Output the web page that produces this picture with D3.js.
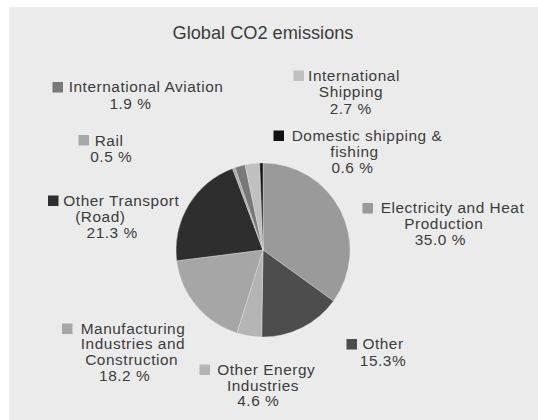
<!DOCTYPE html>
<html>
<head>
<meta charset="utf-8">
<script src="https://cdn.jsdelivr.net/npm/d3@7"></script>
<style>
  html, body { margin: 0; padding: 0; background: #ffffff; }
  svg { display: block; }
  text { font-family: "Liberation Sans", Arial, sans-serif; fill: #3c3c3c; }
</style>
</head>
<body>
<svg id="chart" width="538" height="420"></svg>
<script>
// Sector shares of global CO2 emissions, in pie order (clockwise from 12 o'clock)
const categories = [
  "Electricity and Heat Production",
  "Other",
  "Other Energy Industries",
  "Manufacturing Industries and Construction",
  "Other Transport (Road)",
  "Rail",
  "International Aviation",
  "International Shipping",
  "Domestic shipping & fishing"
];
const shares = [35.0, 15.3, 4.6, 18.2, 21.3, 0.5, 1.9, 2.7, 0.6];
const sliceColors = ["#9a9a9a", "#4d4d4d", "#b4b4b4", "#a6a6a6", "#2e2e2e", "#a8a8a8", "#797979", "#c0c0c0", "#111111"];
const title = "Global CO2 emissions";

// Label placement: words per line, legend-key corner, per-line centres and baselines
const labelLayout = [
  { words: [3, 1],    key: [362.5, 203],   cx: [452.5, 443.8, 440.3], y: [213.3, 229, 245] },
  { words: [1],       key: [346.5, 339],   cx: [383, 383],            y: [349.3, 365.8], tight: true },
  { words: [2, 1],    key: [199.5, 364.5], cx: [266.3, 263, 258.3],   y: [375.3, 390.7, 406] },
  { words: [1, 2, 1], key: [62, 323.5],    cx: [133, 133, 131.7, 124.7], y: [334, 349.3, 365, 380.7] },
  { words: [2, 1],    key: [48, 195.5],    cx: [121.3, 100.3, 112.2], y: [205.7, 221.7, 238] },
  { words: [1],       key: [78.5, 135],    cx: [109, 111.3],          y: [145.7, 161.7] },
  { words: [2],       key: [52.5, 82],     cx: [146, 130.5],          y: [92.3, 109.3] },
  { words: [1, 1],    key: [293.5, 70.5],  cx: [354, 351, 350.7],     y: [80.7, 96.5, 114] },
  { words: [3, 1],    key: [273.5, 130.5], cx: [367, 354.5, 352.5],   y: [141, 156.7, 173.3] }
];

const svg = d3.select("#chart");
const W = 538, H = 420;

// Chart area background
svg.append("rect")
  .attr("x", 9).attr("y", 7)
  .attr("width", W - 9).attr("height", H - 7)
  .attr("fill", "#ebebeb");

svg.append("text")
  .attr("x", 263).attr("y", 38.5)
  .attr("text-anchor", "middle")
  .style("font-size", "18.2px")
  .text(title);

// Pie
const cx = 263, cy = 250, r = 87;
const color = d3.scaleOrdinal().domain(categories).range(sliceColors);
const pie = d3.pie().sort(null).value(d => d.value);
const arc = d3.arc().innerRadius(0).outerRadius(r);
const rows = categories.map((c, i) => ({ name: c, value: shares[i] }));

svg.append("g")
  .attr("transform", `translate(${cx},${cy})`)
  .selectAll("path")
  .data(pie(rows))
  .join("path")
  .attr("d", arc)
  .attr("fill", d => color(d.data.name))
  .attr("stroke", "#e6e6e6")
  .attr("stroke-width", 0.4);

// Data labels with legend keys
const fmt = d3.format(".1f");
const labels = svg.append("g")
  .style("font-size", "15.4px")
  .style("letter-spacing", "0.55px");

rows.forEach((d, i) => {
  const L = labelLayout[i];
  const words = d.name.split(" ");
  const lines = [];
  let k = 0;
  L.words.forEach(n => { lines.push(words.slice(k, k + n).join(" ")); k += n; });
  lines.push(fmt(d.value) + (L.tight ? "%" : " %"));

  labels.append("rect")
    .attr("x", L.key[0]).attr("y", L.key[1])
    .attr("width", 10.5).attr("height", 10.5)
    .attr("fill", color(d.name));

  lines.forEach((t, j) => {
    labels.append("text")
      .attr("x", L.cx[j]).attr("y", L.y[j])
      .attr("text-anchor", "middle")
      .text(t);
  });
});
</script>
</body>
</html>
